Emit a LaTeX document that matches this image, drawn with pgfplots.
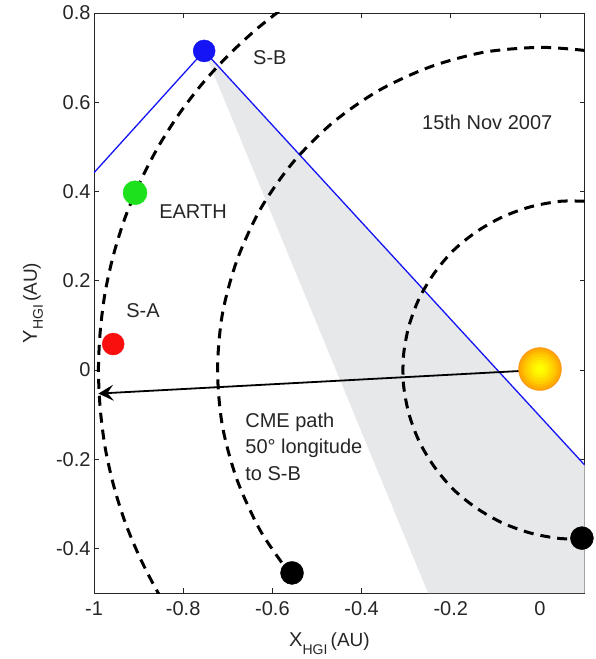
\documentclass[border=0pt]{standalone}
\usepackage{fontspec}
\setmainfont{Liberation Sans}
\usepackage{pgfplots}
\pgfplotsset{compat=1.18}
\usetikzlibrary{arrows.meta}
\definecolor{fovgrey}{RGB}{230,232,234}
\definecolor{txt}{RGB}{38,38,38}
\definecolor{sbblue}{RGB}{20,20,245}
\definecolor{egreen}{RGB}{30,225,30}
\definecolor{sared}{RGB}{250,15,15}
\definecolor{sunA}{RGB}{250,155,20}
\definecolor{sunB}{RGB}{255,172,0}
\definecolor{sunC}{RGB}{255,188,0}
\definecolor{sunD}{RGB}{255,205,0}
\definecolor{sunE}{RGB}{255,220,0}
\definecolor{sunF}{RGB}{255,235,0}
\definecolor{sunG}{RGB}{255,246,0}
\definecolor{sunH}{RGB}{255,255,0}
\begin{document}
\begin{tikzpicture}
\begin{axis}[
  scale only axis, width=490.6pt, height=580pt,
  xmin=-1, xmax=0.1, ymin=-0.5, ymax=0.8,
  axis line style={line width=0.8pt, black!85},
  tick style={black!85, line width=0.8pt},
  major tick length=5pt,
  tick align=inside,
  xtick={-1,-0.8,-0.6,-0.4,-0.2,0},
  xticklabels={-1,-0.8,-0.6,-0.4,-0.2,0},
  ytick={-0.4,-0.2,0,0.2,0.4,0.6,0.8},
  yticklabels={-0.4,-0.2,0,0.2,0.4,0.6,0.8},
  ticklabel style={font=\fontsize{20}{24}\selectfont, text=txt},
  xticklabel style={yshift=-5pt},
  xlabel={X\raisebox{-8pt}{\fontsize{14}{14}\selectfont HGI}\,{\fontsize{19}{20}\selectfont (AU)}},
  xlabel style={font=\fontsize{20}{24}\selectfont, text=txt, at={(axis description cs:0.48,-0.0931)}, anchor=base},
  ylabel={Y\raisebox{-6pt}{\fontsize{14}{14}\selectfont HGI}\,{\fontsize{19}{20}\selectfont (AU)}},
  ylabel style={font=\fontsize{20}{24}\selectfont, text=txt, at={(axis description cs:-0.1162,0.5)}, anchor=base},
]
% shaded field of view
\addplot[fill=fovgrey, draw=none] coordinates {(-0.753,0.715) (0.1,-0.213) (0.1,-0.5) (-0.251,-0.5)} -- cycle;
% blue lines from S-B
\addplot[sbblue, line width=1.3pt] coordinates {(-1,0.442) (-0.753,0.715) (0.1,-0.213)};
% Earth orbit
\addplot[black, line width=3pt, dash pattern=on 10pt off 7pt, smooth] coordinates {
(-0.490,0.866) (-0.564,0.819) (-0.633,0.766) (-0.697,0.707) (-0.756,0.643)
(-0.809,0.574) (-0.856,0.500) (-0.896,0.423) (-0.930,0.342) (-0.956,0.259)
(-0.975,0.174) (-0.986,0.087) (-0.990,0) (-0.986,-0.087) (-0.975,-0.174)
(-0.956,-0.259) (-0.930,-0.342) (-0.896,-0.423) (-0.856,-0.500) (-0.809,-0.574)};
% Venus orbit
\addplot[black, line width=3pt, dash pattern=on 10pt off 7pt, smooth] coordinates {
(0.101,0.716) (0,0.723) (-0.126,0.712) (-0.247,0.679) (-0.362,0.626)
(-0.465,0.554) (-0.554,0.465) (-0.626,0.362) (-0.679,0.247) (-0.712,0.126)
(-0.723,0) (-0.712,-0.126) (-0.679,-0.247) (-0.626,-0.362) (-0.562,-0.455)};
% Mercury orbit
\addplot[black, line width=3pt, dash pattern=on 10pt off 7pt, smooth] coordinates {
(0.100,0.378) (0.046,0.378) (-0.020,0.366) (-0.084,0.343) (-0.142,0.310)
(-0.194,0.268) (-0.237,0.217) (-0.271,0.160) (-0.294,0.098) (-0.306,0.033)
(-0.306,-0.033) (-0.294,-0.098) (-0.271,-0.160) (-0.237,-0.217) (-0.194,-0.268)
(-0.142,-0.310) (-0.084,-0.343) (-0.020,-0.366) (0.046,-0.378) (0.094,-0.377)};
% CME path arrow
\addplot[black, line width=1.8pt, -{Stealth[length=15pt,width=16pt,inset=6pt]}] coordinates {(0,0) (-0.99,-0.053)};
% planets / spacecraft
\addplot[sbblue, only marks, mark=*, mark size=11pt] coordinates {(-0.753,0.715)};
\addplot[egreen, only marks, mark=*, mark size=12pt] coordinates {(-0.908,0.397)};
\addplot[sared, only marks, mark=*, mark size=11pt] coordinates {(-0.957,0.058)};
\addplot[black, only marks, mark=*, mark size=11.5pt] coordinates {(-0.556,-0.455)};
\addplot[black, only marks, mark=*, mark size=11.5pt] coordinates {(0.094,-0.377)};
% Sun (layered)
\addplot[sunA, only marks, mark=*, mark size=21.5pt] coordinates {(0,0.002)};
\addplot[sunB, only marks, mark=*, mark size=20pt] coordinates {(0,0.002)};
\addplot[sunC, only marks, mark=*, mark size=17.5pt] coordinates {(0,0.002)};
\addplot[sunD, only marks, mark=*, mark size=15pt] coordinates {(0,0.002)};
\addplot[sunE, only marks, mark=*, mark size=12pt] coordinates {(0,0.002)};
\addplot[sunF, only marks, mark=*, mark size=9pt] coordinates {(0,0.002)};
\addplot[sunG, only marks, mark=*, mark size=6pt] coordinates {(0,0.002)};
\addplot[sunH, only marks, mark=*, mark size=3.5pt] coordinates {(0,0.002)};
% texts
\node[anchor=base west, font=\fontsize{20}{24}\selectfont, text=txt, inner sep=0pt] at (axis cs:-0.6435,0.684) {S-B};
\node[anchor=base west, font=\fontsize{20}{24}\selectfont, text=txt, inner sep=0pt] at (axis cs:-0.2646,0.538) {15th Nov 2007};
\node[anchor=base west, font=\fontsize{20}{24}\selectfont, text=txt, inner sep=0pt] at (axis cs:-0.854,0.3386) {EARTH};
\node[anchor=base west, font=\fontsize{20}{24}\selectfont, text=txt, inner sep=0pt] at (axis cs:-0.928,0.1166) {S-A};
\node[anchor=base west, font=\fontsize{20}{24}\selectfont, text=txt, inner sep=0pt] at (axis cs:-0.661,-0.130) {CME path};
\node[anchor=base west, font=\fontsize{20}{24}\selectfont, text=txt, inner sep=0pt] at (axis cs:-0.661,-0.188) {50° longitude};
\node[anchor=base west, font=\fontsize{20}{24}\selectfont, text=txt, inner sep=0pt] at (axis cs:-0.661,-0.247) {to S-B};
\coordinate (SW) at (rel axis cs:0,0);
\coordinate (NE) at (rel axis cs:1,1);
\end{axis}
\pgfresetboundingbox
\path ([shift={(-94pt,-66pt)}]SW) rectangle ([shift={(11.4pt,13pt)}]NE);
\end{tikzpicture}
\end{document}
